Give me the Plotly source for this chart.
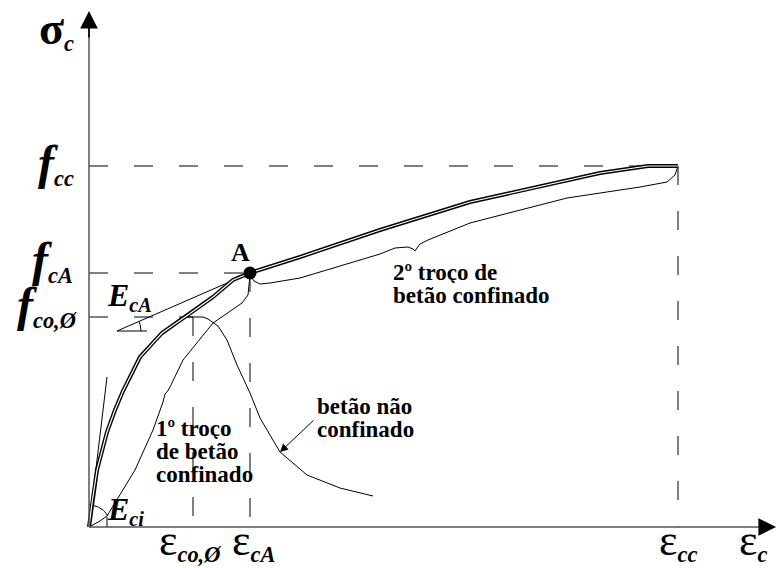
import plotly.graph_objects as go
import numpy as np

# Schematic stress-strain diagram of confined concrete.
# strain in per mil, stress in MPa

# key points
eps_co, eps_cA, eps_cc = 1.04, 1.61, 5.89
f_co, f_cA, f_cc = 21.0, 25.4, 36.1

# confined concrete, 1st branch (origin -> A)
conf1_eps = [0.0, 0.03, 0.08, 0.18, 0.26, 0.34, 0.51, 0.73, 0.96, 1.24, 1.44, 1.61]
conf1_sig = [0.0, 2.4, 5.7, 9.5, 11.7, 13.6, 17.0, 19.4, 21.0, 23.0, 24.7, 25.4]

# confined concrete, 2nd branch (A -> peak)
conf2_eps = [1.61, 2.11, 2.91, 3.81, 4.61, 5.11, 5.59, 5.89]
conf2_sig = [25.4, 27.0, 29.7, 32.5, 34.3, 35.4, 36.1, 36.1]

# unconfined concrete
unconf_eps = [0.0, 0.03, 0.08, 0.18, 0.26, 0.34, 0.51, 0.73, 0.93, 1.14, 1.19, 1.29,
              1.38, 1.48, 1.61, 1.71, 1.91, 2.18, 2.51, 2.84]
unconf_sig = [0.0, 2.4, 5.7, 9.5, 11.7, 13.6, 17.0, 19.4, 21.0, 21.0, 20.8, 20.1,
              18.7, 16.2, 13.4, 10.9, 7.5, 5.2, 3.9, 3.1]

# brace under the 1st branch
brace1_eps = [0.0, 0.11, 0.18, 0.31, 0.46, 0.64, 0.74, 0.76, 0.78, 0.81, 0.94,
              1.24, 1.53, 1.59, 1.60, 1.61]
brace1_sig = [0.0, 0.6, 1.1, 3.3, 5.7, 9.7, 12.5, 13.3, 13.5, 14.0, 16.7,
              20.4, 22.4, 23.2, 24.4, 25.2]

# brace under the 2nd branch
brace2_eps = [1.61, 1.65, 1.71, 1.81, 2.11, 2.51, 2.91, 3.06, 3.19, 3.24, 3.26,
              3.28, 3.31, 3.39, 3.81, 4.78, 5.51, 5.78, 5.86, 5.89]
brace2_sig = [25.2, 24.6, 24.3, 24.4, 24.9, 26.1, 27.3, 27.9, 28.0, 27.8, 27.6,
              27.9, 28.3, 28.7, 30.4, 32.9, 34.0, 34.5, 35.2, 36.1]

# tangent lines for the moduli
eci_eps, eci_sig = [0.0, 0.18], [0.0, 15.0]
eca_eps, eca_sig = [0.28, 1.61], [19.6, 25.4]

# text blocks (one entry per line)
txt_branch1 = ['1º troço', 'de betão', 'confinado']
txt_unconf = ['betão não', 'confinado']
txt_branch2 = ['2º troço de', 'betão confinado']

PX_X, PX_Y = 100.0, 10.0  # pixels per unit


def arc(cx, cy, r, a0, a1):
    # small angle mark, drawn in screen space
    t = np.radians(np.linspace(a0, a1, 20))
    return cx + r * np.cos(t) / PX_X, cy + r * np.sin(t) / PX_Y


fig = go.Figure()
thin = dict(color='black', width=1)
dash = dict(color='black', width=1, dash='19px,26px')


def line(x, y, style):
    fig.add_trace(go.Scatter(x=x, y=y, mode='lines', line=style,
                             showlegend=False, hoverinfo='skip'))


# dashed reference lines
line([0, eps_cc], [f_cc, f_cc], dash)
line([0, eps_cA], [f_cA, f_cA], dash)
line([0, eps_co], [f_co, f_co], dash)
line([eps_co, eps_co], [f_co, 0], dash)
line([eps_cA, eps_cA], [f_cA, 0], dash)
line([eps_cc, eps_cc], [f_cc, 0], dash)

# construction lines
line(unconf_eps, unconf_sig, thin)
line(brace1_eps, brace1_sig, thin)
line(brace2_eps, brace2_sig, thin)
line(eci_eps, eci_sig, thin)
line(eca_eps, eca_sig, thin)
line([eca_eps[0], eca_eps[0] + 0.30], [eca_sig[0], eca_sig[0]], thin)
ax_, ay_ = arc(eca_eps[0], eca_sig[0], 24, 0, 23.5)
line(ax_, ay_, thin)
ax_, ay_ = arc(0, 0, 22, 30, 90)
line(ax_, ay_, thin)
line([0.18, 0.18], [0, 1.0], thin)

# confined curve: double line
conf_eps = conf1_eps + conf2_eps[1:]
conf_sig = conf1_sig + conf2_sig[1:]
line(conf_eps, conf_sig, dict(color='black', width=4))
line(conf_eps, conf_sig, dict(color='white', width=1.2))

# point A
fig.add_trace(go.Scatter(x=[eps_cA], y=[f_cA], mode='markers',
                         marker=dict(color='black', size=13),
                         showlegend=False, hoverinfo='skip'))

# axes
axis_col = '#555555'
fig.add_shape(type='line', x0=0, y0=0, x1=0, y1=50.5, line=dict(color=axis_col, width=1.5))
fig.add_shape(type='line', x0=0, y0=0, x1=6.75, y1=0, line=dict(color=axis_col, width=1.5))
fig.add_annotation(x=0, y=51.6, ax=0, ay=48.8, xref='x', yref='y', axref='x', ayref='y',
                   showarrow=True, arrowhead=2, arrowsize=2.2, arrowwidth=1.6,
                   arrowcolor='black', text='')
fig.add_annotation(x=6.87, y=0, ax=6.70, ay=0, xref='x', yref='y', axref='x', ayref='y',
                   showarrow=True, arrowhead=2, arrowsize=2.2, arrowwidth=1.6,
                   arrowcolor='black', text='')

FONT = 'Liberation Serif'


def label(x, y, text, size, xanchor='center', align='center', yanchor='middle',
          weight='bold', style='normal', height=None):
    fig.add_annotation(x=x, y=y, xref='x', yref='y', text=text, showarrow=False,
                       xanchor=xanchor, yanchor=yanchor, align=align, height=height,
                       borderpad=0,
                       font=dict(family=FONT, size=size, color='black',
                                 weight=weight, style=style))


def block(x, y_top, lines, size=23, step=2.3):
    # multi-line text with a tight line spacing
    for i, t in enumerate(lines):
        label(x, y_top - i * step, t, size, xanchor='left', align='left', height=22)


def eps_label(sub):
    return ('<span style="font-size:44px">ε</span>'
            '<sub><b><i>' + sub + '</i></b></sub>')


def f_label(sub):
    return '<span style="font-size:48px">f</span><sub>' + sub + '</sub>'


# axis labels
label(-0.33, 49.8, '<span style="font-size:46px">σ</span><sub><i>c</i></sub>', 32)
label(-0.14, 36.4, f_label('cc'), 32, xanchor='right', style='italic')
label(-0.15, 26.7, f_label('cA'), 32, xanchor='right', style='italic')
label(-0.11, 22.2, f_label('co,Ø'), 32, xanchor='right', style='italic')
label(eps_co - 0.03, -4.05, eps_label('co,Ø'), 32, yanchor='bottom', weight='normal')
label(eps_cA + 0.03, -4.05, eps_label('cA'), 32, yanchor='bottom', weight='normal')
label(eps_cc, -4.05, eps_label('cc'), 32, yanchor='bottom', weight='normal')
label(6.64, -4.05, eps_label('c'), 32, yanchor='bottom', weight='normal')

# annotations on the curves
label(1.51, 27.5, 'A', 26)
label(0.40, 23.1, '<span style="font-size:32px">E</span><sub>cA</sub>', 29, style='italic')
label(0.36, 1.7, '<span style="font-size:32px">E</span><sub>ci</sub>', 29, style='italic')
block(0.66, 9.95, txt_branch1)
block(2.27, 12.1, txt_unconf)
block(3.03, 25.5, txt_branch2)

fig.add_annotation(x=1.91, y=7.5, ax=2.26, ay=10.8, xref='x', yref='y', axref='x', ayref='y',
                   showarrow=True, arrowhead=2, arrowsize=1.6, arrowwidth=1,
                   arrowcolor='black', text='')

fig.update_layout(
    width=776, height=568,
    margin=dict(l=0, r=0, t=0, b=0),
    paper_bgcolor='white', plot_bgcolor='white',
    xaxis=dict(range=[-0.89, 6.87], visible=False, fixedrange=True),
    yaxis=dict(range=[-4.1, 52.7], visible=False, fixedrange=True),
)

# page body has a default margin; drop it so the figure fills the window
fig.write_html("out.html", config={'displayModeBar': False},
               post_script="document.body.style.margin='0';")
